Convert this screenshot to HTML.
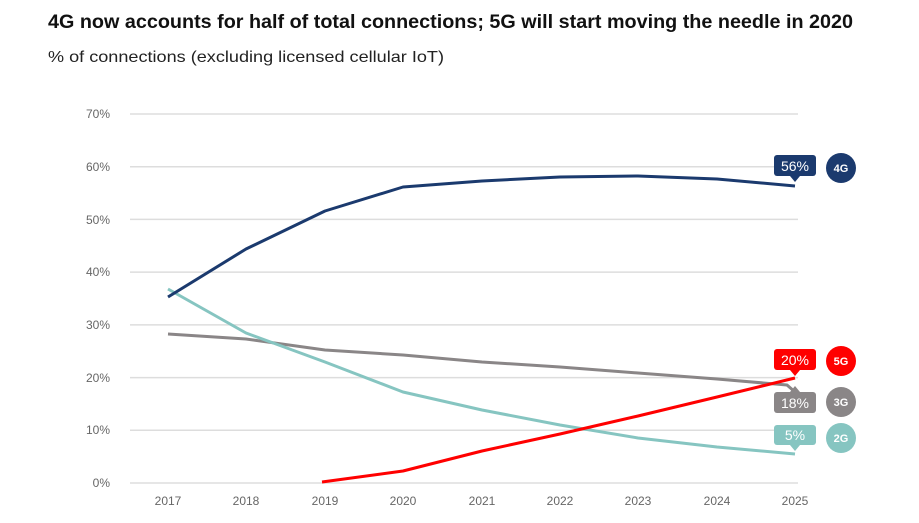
<!DOCTYPE html>
<html><head><meta charset="utf-8"><style>
body{margin:0;background:#fff;width:919px;height:518px;overflow:hidden;font-family:"Liberation Sans",sans-serif}
</style></head><body>
<svg width="919" height="518" xmlns="http://www.w3.org/2000/svg" font-family="Liberation Sans, sans-serif">
<text x="48" y="28" font-size="19.5" font-weight="bold" fill="#111" textLength="805" lengthAdjust="spacingAndGlyphs">4G now accounts for half of total connections; 5G will start moving the needle in 2020</text>
<text x="48" y="62" font-size="16" fill="#222" textLength="396" lengthAdjust="spacingAndGlyphs">% of connections (excluding licensed cellular IoT)</text>
<g stroke="#ddd" stroke-width="1.5">
<line x1="130" x2="798" y1="114" y2="114"/><line x1="130" x2="798" y1="166.7" y2="166.7"/>
<line x1="130" x2="798" y1="219.4" y2="219.4"/><line x1="130" x2="798" y1="272.1" y2="272.1"/>
<line x1="130" x2="798" y1="324.9" y2="324.9"/><line x1="130" x2="798" y1="377.6" y2="377.6"/>
<line x1="130" x2="798" y1="430.3" y2="430.3"/><line x1="130" x2="798" y1="483" y2="483"/>
</g>
<g font-size="12" fill="#666" text-anchor="end">
<text x="110" y="118">70%</text><text x="110" y="171">60%</text><text x="110" y="224">50%</text><text x="110" y="276">40%</text><text x="110" y="329">30%</text><text x="110" y="382">20%</text><text x="110" y="434">10%</text><text x="110" y="487">0%</text>
</g>
<g font-size="12" fill="#666" text-anchor="middle">
<text x="168" y="505">2017</text><text x="246" y="505">2018</text><text x="325" y="505">2019</text><text x="403" y="505">2020</text><text x="482" y="505">2021</text><text x="560" y="505">2022</text><text x="638" y="505">2023</text><text x="717" y="505">2024</text><text x="795" y="505">2025</text>
</g>
<g fill="none" stroke-width="3" stroke-linejoin="round">
<polyline stroke="#8a8687" points="168,334 246,339 325,350 403,355 482,362 560,367 638,373 717,379 787,385 795,392"/>
<polyline stroke="#86c5c1" points="168,289 246,333 325,362 403,392 482,410 560,425 638,438 717,447 795,454"/>
<polyline stroke="#1b3a6e" points="168,297 246,249 325,211 403,187 482,181 560,177 638,176 717,179 795,186"/>
<polyline stroke="#f00" points="322,482 403,471 482,451 560,434 638,416 717,397 795,378"/>
</g>
<g font-size="14" fill="#fff" text-anchor="middle">
<rect x="774" y="155" width="42" height="21" rx="3" fill="#1b3a6e"/><path d="M790 176 L795 182 L800 176Z" fill="#1b3a6e"/><text x="795" y="171">56%</text>
<rect x="774" y="349" width="42" height="21" rx="3" fill="#f00"/><path d="M790 370 L795 376 L800 370Z" fill="#f00"/><text x="795" y="365">20%</text>
<rect x="774" y="392" width="42" height="21" rx="3" fill="#8a8687"/><path d="M790 392 L795 386 L800 392Z" fill="#8a8687"/><text x="795" y="408">18%</text>
<rect x="774" y="425" width="42" height="20" rx="3" fill="#86c5c1"/><path d="M790 445 L795 451 L800 445Z" fill="#86c5c1"/><text x="795" y="440">5%</text>
</g>
<g font-size="11" font-weight="bold" fill="#fff" text-anchor="middle">
<circle cx="841" cy="168" r="15" fill="#1b3a6e"/><text x="841" y="172">4G</text>
<circle cx="841" cy="361" r="15" fill="#f00"/><text x="841" y="365">5G</text>
<circle cx="841" cy="402" r="15" fill="#8a8687"/><text x="841" y="406">3G</text>
<circle cx="841" cy="438" r="15" fill="#86c5c1"/><text x="841" y="442">2G</text>
</g>
</svg>
</body></html>
